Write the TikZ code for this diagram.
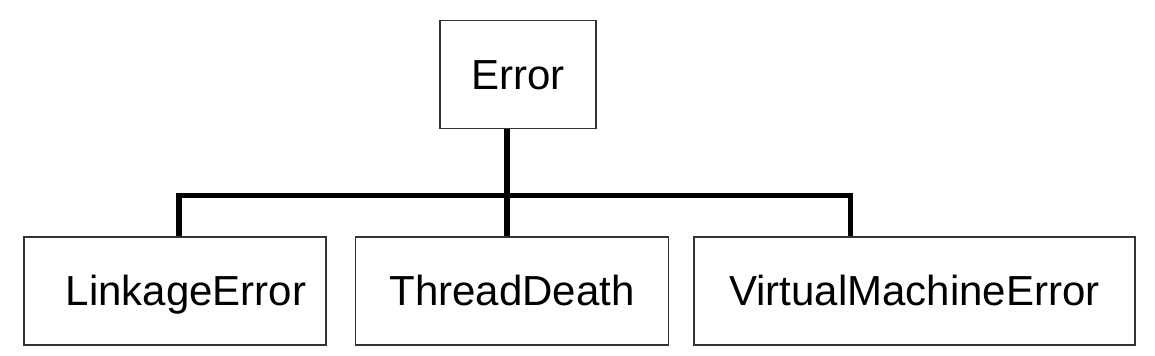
\documentclass[tikz,border=0pt]{standalone}
\usepackage{fontspec}
\setmainfont{Liberation Sans}
\usepackage{tikz}
\usetikzlibrary{positioning}

\begin{document}
\begin{tikzpicture}[
        x=0.5pt, y=-0.5pt,
        box/.style={draw=black!80, line width=0.75pt, font=\fontsize{21}{25}\selectfont, inner sep=0pt, minimum height=54pt, text height=15pt, text depth=0pt},
        link/.style={line width=2.6pt, black}
    ]
        \useasboundingbox (0,0) rectangle (1155,356);
        \node (err) [box, minimum width=78pt] at (518,74.5) {Error};
        \node (linkage) [box, minimum width=151pt] at (175,291) {\hspace*{11pt}LinkageError};
        \node (thread) [box, minimum width=156.5pt, right=14pt of linkage] {ThreadDeath};
        \node (vme) [box, minimum width=220.5pt, right=12pt of thread] {VirtualMachineError};
        \coordinate (bus) at (507,195.5);

        \draw [link] ([xshift=-5.5pt]err.south) -- ([xshift=-5.5pt]err.south |- thread.north);
        \draw [link] ([xshift=2pt]linkage.north) |- (bus) -| ([xshift=-32pt]vme.north);
    \end{tikzpicture}
\end{document}
